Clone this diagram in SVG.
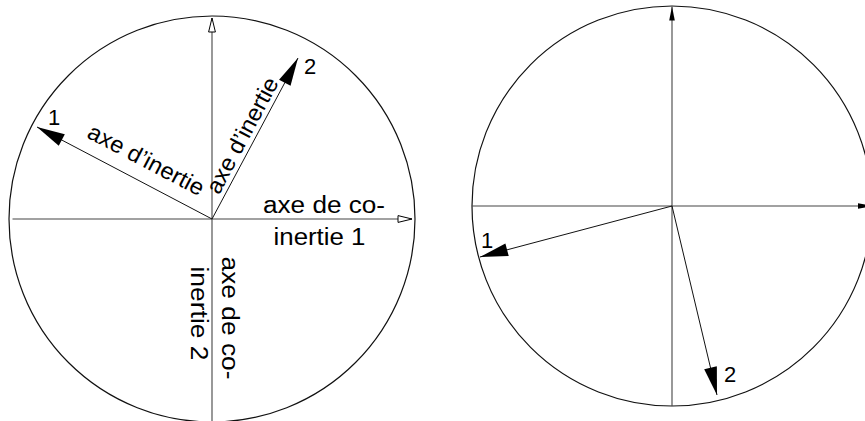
<svg xmlns="http://www.w3.org/2000/svg" width="865" height="421" viewBox="0 0 865 421">
<style>
.circ{fill:none;stroke:#111;stroke-width:1.2}
.axis{fill:none;stroke:#444;stroke-width:1.1}
.vec{fill:none;stroke:#111;stroke-width:1}
text{font-family:"Liberation Sans",Arial,sans-serif;fill:#000}
.lbl{font-size:23px}
.num{font-size:22px}
</style>
<defs>
<marker id="big" viewBox="-30 -8 32 16" markerWidth="32" markerHeight="16" refX="0" refY="0" markerUnits="userSpaceOnUse" orient="auto">
<path d="M0,0 L-28,-6.5 L-28,6.5 Z" fill="#000"/>
</marker>
<marker id="hollow" viewBox="-17 -6 19 12" markerWidth="19" markerHeight="12" refX="0" refY="0" markerUnits="userSpaceOnUse" orient="auto">
<path d="M0,0 L-14,-3.4 L-14,3.4 Z" fill="#fff" stroke="#000" stroke-width="1"/>
</marker>
<marker id="small" viewBox="-16 -5 18 10" markerWidth="18" markerHeight="10" refX="0" refY="0" markerUnits="userSpaceOnUse" orient="auto">
<path d="M0,0 L-14,-2.8 L-14,2.8 Z" fill="#000"/>
</marker>
</defs>
<g id="left-circle">
<circle class="circ" cx="212" cy="219" r="203"/>
</g>
<g id="right-circle">
<circle class="circ" cx="672" cy="206" r="200"/>
</g>
<g id="connectors">
<line class="axis" x1="12.5" y1="219" x2="412" y2="219" marker-end="url(#hollow)"/>
<line class="axis" x1="212" y1="421" x2="212" y2="18" marker-end="url(#hollow)"/>
<line class="vec" x1="212" y1="219" x2="37" y2="127" marker-end="url(#big)"/>
<line class="vec" x1="212" y1="219" x2="298" y2="58" marker-end="url(#big)"/>
<line class="axis" x1="472" y1="206" x2="872" y2="206" marker-end="url(#small)"/>
<line class="axis" x1="672" y1="406" x2="672" y2="6.5" marker-end="url(#small)"/>
<line class="vec" x1="672" y1="206" x2="480" y2="257" marker-end="url(#big)"/>
<line class="vec" x1="672" y1="206" x2="717" y2="395" marker-end="url(#big)"/>
</g>
<g id="left-labels">
<text class="lbl" transform="translate(85.8,136.9) rotate(27.73)" textLength="128" lengthAdjust="spacingAndGlyphs">axe d’inertie</text>
<text class="lbl" transform="translate(218.9,195.4) rotate(-61.89)" textLength="128" lengthAdjust="spacingAndGlyphs">axe d’inertie</text>
<text class="lbl" x="263" y="213" textLength="122" lengthAdjust="spacingAndGlyphs">axe de co-</text>
<text class="lbl" x="273.5" y="245" textLength="92" lengthAdjust="spacingAndGlyphs">inertie 1</text>
<text class="lbl" transform="translate(221.5,256.5) rotate(90)" textLength="123" lengthAdjust="spacingAndGlyphs">axe de co-</text>
<text class="lbl" transform="translate(190.5,266.5) rotate(90)" textLength="94" lengthAdjust="spacingAndGlyphs">inertie 2</text>
<text class="num" x="48" y="125">1</text>
<text class="num" x="304" y="74">2</text>
</g>
<g id="right-labels">
<text class="num" x="481" y="248">1</text>
<text class="num" x="724" y="382">2</text>
</g>
</svg>
